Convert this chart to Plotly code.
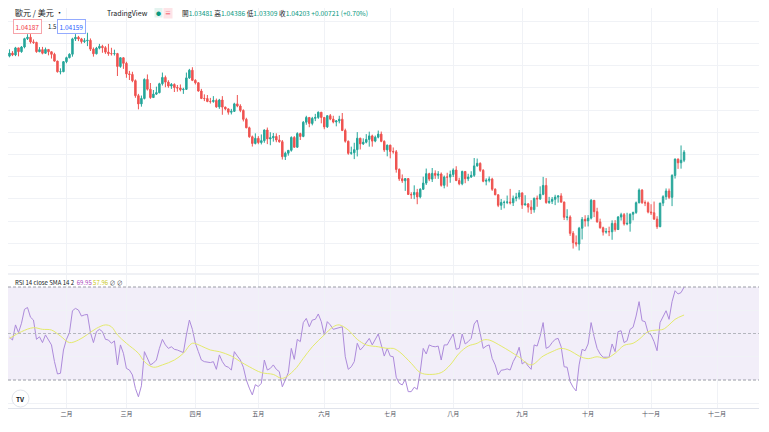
import pandas as pd
import plotly.graph_objects as go

# ---------------- data (EUR/USD daily, 2022-01-05 .. 2022-11-16) ----------------
dates = pd.bdate_range("2022-01-05", "2022-11-16").strftime("%Y-%m-%d").tolist()

open_ = [
    # Jan
    1.1285,1.1312,1.1296,1.1359,1.1325,1.1367,1.1442,1.1455,1.1413,1.1408,1.1325,1.1343,1.1311,1.1345,1.1324,1.1301,1.1240,1.1144,1.1145,
    # Feb
    1.1235,1.1271,1.1302,1.1440,1.1454,1.1440,1.1416,1.1423,1.1427,1.1348,1.1306,1.1357,1.1373,1.1361,1.1321,1.1308,1.1307,1.1308,1.1192,1.1270,
    # Mar
    1.1220,1.1125,1.1120,1.1064,1.0929,1.0855,1.0904,1.1075,1.0987,1.0912,1.0943,1.0956,1.1036,1.1093,1.1051,1.1016,1.1030,1.1002,1.0998,1.0983,1.0986,1.1089,1.1158,
    # Apr
    1.1067,1.1045,1.0971,1.0904,1.0903,1.0877,1.0876,1.0886,1.0828,1.0890,1.0826,1.0810,1.0780,1.0788,1.0855,1.0836,1.0796,1.0716,1.0640,1.0559,1.0499,
    # May
    1.0545,1.0507,1.0524,1.0620,1.0540,1.0550,1.0562,1.0530,1.0515,1.0380,1.0411,1.0437,1.0553,1.0465,1.0588,1.0562,1.0690,1.0733,1.0679,1.0725,1.0733,1.0780,
    # Jun
    1.0733,1.0648,1.0749,1.0718,1.0692,1.0702,1.0717,1.0616,1.0519,1.0410,1.0415,1.0443,1.0546,1.0495,1.0510,1.0535,1.0567,1.0520,1.0555,1.0583,1.0518,1.0441,
    # Jul
    1.0484,1.0427,1.0424,1.0265,1.0181,1.0163,1.0183,1.0040,1.0037,1.0058,1.0018,1.0087,1.0142,1.0227,1.0178,1.0230,1.0212,1.0224,1.0122,1.0197,1.0196,
    # Aug
    1.0220,1.0260,1.0165,1.0136,1.0247,1.0181,1.0197,1.0212,1.0297,1.0320,1.0257,1.0159,1.0167,1.0178,1.0087,1.0037,0.9942,0.9968,0.9969,0.9972,0.9965,1.0005,1.0017,
    # Sep
    1.0054,0.9945,0.9955,0.9926,0.9903,1.0006,1.0000,1.0041,1.0121,0.9967,0.9978,0.9996,1.0016,1.0027,0.9971,0.9835,0.9837,0.9690,0.9606,0.9594,0.9736,0.9816,
    # Oct
    0.9802,0.9827,0.9987,0.9885,0.9793,0.9740,0.9701,0.9706,0.9704,0.9779,0.9724,0.9837,0.9858,0.9775,0.9780,0.9862,0.9878,0.9965,1.0079,0.9966,0.9964,
    # Nov
    0.9882,0.9875,0.9818,0.9750,0.9962,1.0020,1.0071,1.0014,1.0211,1.0358,1.0325,1.03481,
]
high = [
    1.1346,1.1330,1.1368,1.1360,1.1375,1.1450,1.1482,1.1483,1.1435,1.1414,1.1366,1.1368,1.1362,1.1347,1.1328,1.1315,1.1244,1.1175,1.1241,
    1.1280,1.1310,1.1450,1.1483,1.1467,1.1449,1.1447,1.1495,1.1444,1.1363,1.1368,1.1395,1.1387,1.1375,1.1395,1.1360,1.1343,1.1314,1.1274,1.1275,
    1.1234,1.1152,1.1144,1.1075,1.0945,1.0930,1.1085,1.1120,1.1043,1.0980,1.1010,1.1045,1.1137,1.1110,1.1068,1.1043,1.1040,1.1025,1.1030,1.1000,1.1137,1.1170,1.1185,
    1.1077,1.1050,1.0990,1.0941,1.0935,1.0909,1.0925,1.0903,1.0900,1.0925,1.0830,1.0815,1.0810,1.0865,1.0935,1.0852,1.0806,1.0730,1.0650,1.0570,1.0590,
    1.0565,1.0580,1.0625,1.0642,1.0600,1.0593,1.0590,1.0575,1.0530,1.0425,1.0440,1.0563,1.0565,1.0600,1.0595,1.0700,1.0748,1.0737,1.0738,1.0765,1.0787,1.0782,
    1.0737,1.0750,1.0764,1.0748,1.0710,1.0748,1.0773,1.0632,1.0525,1.0470,1.0505,1.0601,1.0550,1.0545,1.0583,1.0605,1.0578,1.0570,1.0615,1.0606,1.0527,1.0488,
    1.0487,1.0463,1.0440,1.0275,1.0220,1.0186,1.0185,1.0060,1.0122,1.0090,1.0096,1.0200,1.0273,1.0235,1.0278,1.0257,1.0250,1.0238,1.0210,1.0235,1.0255,
    1.0275,1.0294,1.0190,1.0254,1.0250,1.0226,1.0249,1.0368,1.0363,1.0329,1.0268,1.0185,1.0202,1.0190,1.0095,1.0040,0.9999,0.9985,1.0030,1.0090,1.0030,1.0054,1.0080,
    1.0058,1.0033,0.9963,0.9988,1.0011,1.0030,1.0113,1.0198,1.0187,1.0018,1.0017,1.0037,1.0031,1.0051,0.9976,0.9907,0.9852,0.9710,0.9671,0.9748,0.9837,0.9853,
    0.9854,0.9999,0.9990,0.9920,0.9822,0.9750,0.9737,0.9750,0.9807,0.9809,0.9846,0.9875,0.9873,0.9875,0.9870,0.9885,0.9976,1.0094,1.0088,0.9986,0.9976,
    0.9952,0.9976,0.9844,0.9965,1.0033,1.0094,1.0093,1.0222,1.0364,1.0364,1.0481,1.04386,
]
low = [
    1.1274,1.1285,1.1285,1.1283,1.1315,1.1355,1.1430,1.1398,1.1395,1.1315,1.1320,1.1301,1.1305,1.1292,1.1263,1.1236,1.1137,1.1121,1.1140,
    1.1221,1.1265,1.1280,1.1421,1.1420,1.1398,1.1403,1.1375,1.1331,1.1280,1.1300,1.1346,1.1315,1.1305,1.1288,1.1290,1.1290,1.1106,1.1180,1.1170,
    1.1090,1.1070,1.1050,1.0910,1.0806,1.0830,1.0895,1.0975,1.0900,1.0910,1.0935,1.0950,1.1020,1.1005,1.1000,1.0990,1.0962,1.0965,1.0968,1.0945,1.0980,1.1080,1.1060,
    1.1030,1.0965,1.0898,1.0880,1.0870,1.0858,1.0865,1.0820,1.0810,1.0757,1.0797,1.0758,1.0760,1.0782,1.0825,1.0780,1.0697,1.0636,1.0550,1.0471,1.0490,
    1.0492,1.0490,1.0505,1.0493,1.0483,1.0515,1.0510,1.0505,1.0354,1.0350,1.0389,1.0425,1.0460,1.0460,1.0530,1.0555,1.0667,1.0645,1.0662,1.0700,1.0720,1.0680,
    1.0627,1.0638,1.0708,1.0680,1.0653,1.0680,1.0610,1.0506,1.0397,1.0397,1.0358,1.0382,1.0445,1.0485,1.0500,1.0470,1.0470,1.0510,1.0545,1.0510,1.0423,1.0383,
    1.0365,1.0407,1.0236,1.0162,1.0144,1.0072,1.0036,1.0000,0.9998,0.9952,1.0005,1.0080,1.0125,1.0160,1.0152,1.0180,1.0180,1.0110,1.0095,1.0110,1.0145,
    1.0197,1.0160,1.0123,1.0123,1.0141,1.0160,1.0189,1.0198,1.0290,1.0243,1.0150,1.0122,1.0149,1.0072,1.0033,0.9926,0.9901,0.9915,0.9953,0.9950,0.9936,0.9978,0.9995,
    0.9910,0.9941,0.9877,0.9864,0.9876,0.9929,0.9990,1.0033,0.9956,0.9955,0.9954,0.9944,0.9966,0.9966,0.9810,0.9807,0.9667,0.9553,0.9571,0.9536,0.9635,0.9750,
    0.9752,0.9815,0.9836,0.9786,0.9732,0.9670,0.9687,0.9665,0.9632,0.9705,0.9720,0.9805,0.9760,0.9763,0.9705,0.9807,0.9865,0.9960,0.9955,0.9935,0.9870,
    0.9855,0.9811,0.9730,0.9745,0.9935,0.9992,0.9998,0.9935,1.0183,1.0270,1.0272,1.03309,
]
close = [
    1.1312,1.1296,1.1359,1.1325,1.1367,1.1442,1.1455,1.1413,1.1408,1.1325,1.1343,1.1311,1.1345,1.1324,1.1301,1.1240,1.1144,1.1145,1.1235,
    1.1271,1.1302,1.1440,1.1454,1.1440,1.1416,1.1423,1.1427,1.1348,1.1306,1.1357,1.1373,1.1361,1.1321,1.1308,1.1307,1.1308,1.1192,1.1270,1.1220,
    1.1125,1.1120,1.1064,1.0929,1.0855,1.0904,1.1075,1.0987,1.0912,1.0943,1.0956,1.1036,1.1093,1.1051,1.1016,1.1030,1.1002,1.0998,1.0983,1.0986,1.1089,1.1158,1.1067,
    1.1045,1.0971,1.0904,1.0903,1.0877,1.0876,1.0886,1.0828,1.0890,1.0826,1.0810,1.0780,1.0788,1.0855,1.0836,1.0796,1.0716,1.0640,1.0559,1.0499,1.0545,
    1.0507,1.0524,1.0620,1.0540,1.0550,1.0562,1.0530,1.0515,1.0380,1.0411,1.0437,1.0553,1.0465,1.0588,1.0562,1.0690,1.0733,1.0679,1.0725,1.0733,1.0780,1.0733,
    1.0648,1.0749,1.0718,1.0692,1.0702,1.0717,1.0616,1.0519,1.0410,1.0415,1.0443,1.0546,1.0495,1.0510,1.0535,1.0567,1.0520,1.0555,1.0583,1.0518,1.0441,1.0484,
    1.0427,1.0424,1.0265,1.0181,1.0163,1.0183,1.0040,1.0037,1.0058,1.0018,1.0087,1.0142,1.0227,1.0178,1.0230,1.0212,1.0224,1.0122,1.0197,1.0196,1.0220,
    1.0260,1.0165,1.0136,1.0247,1.0181,1.0197,1.0212,1.0297,1.0320,1.0257,1.0159,1.0167,1.0178,1.0087,1.0037,0.9942,0.9968,0.9969,0.9972,0.9965,1.0005,1.0017,1.0054,
    0.9945,0.9955,0.9926,0.9903,1.0006,1.0000,1.0041,1.0121,0.9967,0.9978,0.9996,1.0016,1.0027,0.9971,0.9835,0.9837,0.9690,0.9606,0.9594,0.9736,0.9816,0.9802,
    0.9827,0.9987,0.9885,0.9793,0.9740,0.9701,0.9706,0.9704,0.9779,0.9724,0.9837,0.9858,0.9775,0.9780,0.9862,0.9878,0.9965,1.0079,0.9966,0.9964,0.9882,
    0.9875,0.9818,0.9750,0.9962,1.0020,1.0071,1.0014,1.0211,1.0358,1.0325,1.0348,1.04203,
]

rsi = [
    48.4,47.2,53.7,50.4,54.4,60.4,61.2,57.0,55.8,47.5,
    48.6,46.1,49.4,47.2,45.1,37.9,32.6,32.9,42.9,47.5,
    50.4,59.8,60.8,60.1,57.5,58.0,58.2,50.4,46.1,50.8,
    51.8,50.8,47.5,47.2,45.8,46.8,36.5,45.1,41.5,35.0,
    34.3,32.2,26.4,22.8,27.5,42.2,39.3,36.5,37.3,38.6,
    43.6,47.5,45.1,43.6,44.3,43.2,42.9,42.2,41.8,49.4,
    55.8,51.8,45.8,42.2,38.6,37.9,37.7,37.5,37.9,34.6,
    40.8,37.9,36.0,35.5,34.3,42.2,40.3,38.6,35.5,30.0,
    26.5,23.6,28.0,27.2,28.6,38.6,34.3,35.0,36.5,34.6,
    33.6,27.1,30.0,33.2,43.6,38.9,47.5,46.5,54.7,56.5,
    52.9,55.8,56.1,58.4,55.1,49.4,55.1,53.7,51.8,52.2,
    52.7,52.9,40.0,34.6,35.7,37.9,45.8,42.9,44.3,46.0,
    47.9,45.1,47.5,49.8,45.1,40.3,43.6,40.3,40.0,31.2,
    28.6,27.9,30.3,25.0,25.0,26.9,26.0,33.6,43.6,41.2,
    45.1,44.5,44.3,44.6,38.6,45.1,45.1,47.2,49.8,43.2,
    43.6,49.8,45.5,46.5,47.9,54.1,55.8,50.1,43.6,44.6,
    45.1,39.3,36.5,32.2,34.2,34.4,34.8,34.3,37.9,40.3,
    44.1,36.9,37.9,36.0,34.6,45.1,44.6,48.9,54.7,43.6,
    44.3,46.1,47.5,47.9,44.3,35.7,35.5,29.3,26.9,25.3,
    36.5,43.2,42.6,45.5,54.7,48.6,43.6,41.2,39.8,39.8,
    39.8,45.5,42.2,50.8,51.2,46.1,46.9,51.8,52.7,57.5,
    63.7,55.5,55.1,50.4,49.4,46.5,42.6,54.7,57.2,59.8,
    56.1,63.7,68.4,67.0,67.6,69.95,
]

sma_idx = [0,4,8,11,14,17,20,23,26,29, 32,34,36,39,43,45,48,51,55,58,
           61,64,67,70,74,77,80,84,88,91, 95,98,101,105,108,110,113,116,119,123,
           126,128,130,134,137,140,144,147,150,153, 156,158,160,164,167,170,174,178,181,184,
           187,190,193,196,199,202,205,208,210,213, 216,218,220,222,225]
sma_val = [47.9,50.8,52.5,51.8,51.5,48.9,46.1,47.2,49.6,52.2, 53.7,52.9,49.4,45.8,41.5,37.9,35.5,36.5,38.6,41.5,
           45.8,44.6,42.9,42.2,40.3,37.9,35.7,33.2,32.4,30.7, 34.3,39.3,44.3,49.4,52.9,53.7,51.5,47.5,45.1,44.3,
           43.6,43.6,42.2,37.2,33.2,32.4,33.2,36.5,41.5,44.6, 45.8,47.2,47.2,44.6,42.3,39.8,36.5,40.3,42.2,43.6,
           42.6,40.3,39.2,40.0,39.3,41.5,44.9,45.8,47.5,50.8, 51.5,51.8,53.7,56.1,57.96]
sma_dates = [dates[i] for i in sma_idx]

month_ticks = ["2022-02-01","2022-03-01","2022-04-01","2022-05-02","2022-06-01","2022-07-01",
               "2022-08-01","2022-09-01","2022-10-03","2022-11-01","2022-12-01"]
month_labels = ["二月","三月","四月","五月","六月","七月","八月","九月","十月","十一月","十二月"]

# ---------------- styling ----------------
# The page body has an 8px default margin, so the figure is drawn 8px in from the
# top-left corner of the screenshot; "ref" coordinates below are screenshot pixels.
OFF = 8
W, H = 769 - OFF, 432 - OFF
ML, MR, MT, MB = 0, 10, 0, 24
PW, PH = W - ML - MR, H - MT - MB
UP, DN = "#26a69a", "#ef5350"
GRID = "#f0f2f6"
FONT = "Noto Sans CJK TC, Noto Sans, sans-serif"

def px(x):
    return (x - OFF - ML) / PW

def py(y):
    return (PH - (y - OFF - MT)) / PH

x_range = ["2022-01-04 12:00", "2022-12-21"]
rb = [dict(bounds=["sat", "mon"])]

fig = go.Figure()
fig.add_trace(go.Candlestick(
    x=dates, open=open_, high=high, low=low, close=close,
    xaxis="x", yaxis="y", whiskerwidth=0,
    increasing=dict(line=dict(color=UP, width=1), fillcolor=UP),
    decreasing=dict(line=dict(color=DN, width=1), fillcolor=DN),
    hoverinfo="skip", showlegend=False))
fig.add_trace(go.Scatter(x=dates, y=rsi, xaxis="x2", yaxis="y2", mode="lines",
                         line=dict(color="#ad8bdb", width=1), hoverinfo="skip", showlegend=False))
fig.add_trace(go.Scatter(x=sma_dates, y=sma_val, xaxis="x2", yaxis="y2", mode="lines",
                         line=dict(color="#e4ea6c", width=1, shape="spline"), hoverinfo="skip", showlegend=False))

main_top, main_bottom = 8, 273      # screenshot pixels
rsi_top, rsi_bottom = 275, 408
fig.update_layout(
    width=W, height=H, margin=dict(l=ML, r=MR, t=MT, b=MB),
    paper_bgcolor="white", plot_bgcolor="white", showlegend=False,
    font=dict(family=FONT, color="#131722"),
    xaxis=dict(domain=[0, 1], anchor="y", type="date", range=x_range, rangebreaks=rb,
               tickvals=month_ticks, showticklabels=False, showgrid=True, gridcolor=GRID,
               gridwidth=1, zeroline=False, showline=False, rangeslider=dict(visible=False),
               fixedrange=True),
    xaxis2=dict(domain=[0, 1], anchor="y2", type="date", range=x_range, rangebreaks=rb,
                tickvals=month_ticks, ticktext=month_labels, showgrid=True, gridcolor=GRID,
                tickfont=dict(size=6, color="#50535e", family=FONT), ticks="",
                zeroline=False, showline=True, linecolor="#e0e3eb", linewidth=1, fixedrange=True),
    yaxis=dict(domain=[py(main_bottom), py(main_top)],
               range=[1.179 - 0.0009 * main_bottom, 1.179 - 0.0009 * main_top],
               tick0=0.94, dtick=0.02, showticklabels=False, showgrid=True, gridcolor=GRID,
               zeroline=False, fixedrange=True),
    yaxis2=dict(domain=[py(rsi_bottom), py(rsi_top)],
                range=[70 - (rsi_bottom - 287) * 0.43, 70 + (287 - rsi_top) * 0.43],
                tickvals=[20, 40, 60], showticklabels=False, showgrid=True, gridcolor=GRID,
                zeroline=False, fixedrange=True),
)

shapes = [
    dict(type="rect", xref="paper", yref="y2", x0=0, x1=1, y0=30, y1=70,
         fillcolor="rgba(126,87,194,0.1)", line=dict(width=0), layer="below"),
    dict(type="line", xref="paper", yref="y2", x0=0, x1=1, y0=70, y1=70,
         line=dict(color="#9a9ca6", width=1, dash="3px,2px")),
    dict(type="line", xref="paper", yref="y2", x0=0, x1=1, y0=50, y1=50,
         line=dict(color="#b4b6be", width=1, dash="3px,2px")),
    dict(type="line", xref="paper", yref="y2", x0=0, x1=1, y0=30, y1=30,
         line=dict(color="#9a9ca6", width=1, dash="3px,2px")),
    dict(type="line", xref="paper", yref="paper", x0=0, x1=1, y0=py(274), y1=py(274),
         line=dict(color="#e0e3eb", width=1)),
    dict(type="circle", xref="paper", yref="paper", x0=px(12), x1=px(29), y0=py(407), y1=py(390),
         fillcolor="white", line=dict(color="#e0e3eb", width=1)),
]
fig.update_layout(shapes=shapes)

G = "#089981"
ohlc = (f"開<span style='color:{G}'>1.03481</span> 高<span style='color:{G}'>1.04386</span> "
        f"低<span style='color:{G}'>1.03309</span> 收<span style='color:{G}'>1.04203</span> "
        f"<span style='color:{G}'>+0.00721 (+0.70%)</span>")
ann = [
    dict(x=px(13), y=py(13), text="歐元 / 美元 ·", font=dict(size=8, color="#131722")),
    dict(x=px(105), y=py(13), text="TradingView", font=dict(size=7, color="#131722")),
    dict(x=px(154), y=py(13), text="●", font=dict(size=5, color=G), bgcolor="#e3f3ef", borderpad=1),
    dict(x=px(163), y=py(13), text="≡", font=dict(size=6, color="#f23645"), bgcolor="#fde4e7", borderpad=1),
    dict(x=px(180), y=py(13), text=ohlc, font=dict(size=6.7, color="#131722")),
    dict(x=px(13), y=py(27), text="1.04187", font=dict(size=6.5, color="#f23645"),
         bordercolor="#f7a5ab", borderwidth=1, borderpad=1.5, bgcolor="white"),
    dict(x=px(46), y=py(27), text="1.5", font=dict(size=6, color="#131722")),
    dict(x=px(57), y=py(27), text="1.04159", font=dict(size=6.5, color="#2962ff"),
         bordercolor="#94abff", borderwidth=1, borderpad=1.5, bgcolor="white"),
    dict(x=px(13), y=py(282),
         text="RSI 14 close SMA 14 2  <span style='color:#ab47bc'>69.95</span> "
              "<span style='color:#c9c91c'>57.96</span> <span style='color:#50535e'>∅ ∅</span>",
         font=dict(size=6, color="#131722")),
    dict(x=px(20.5), y=py(398.5), text="<b>TV</b>", font=dict(size=6.5, color="#131722"),
         xanchor="center"),
]
for a in ann:
    a.setdefault("xanchor", "left")
    a.update(xref="paper", yref="paper", yanchor="middle", showarrow=False)
fig.update_layout(annotations=ann)

fig.write_html("out.html")
